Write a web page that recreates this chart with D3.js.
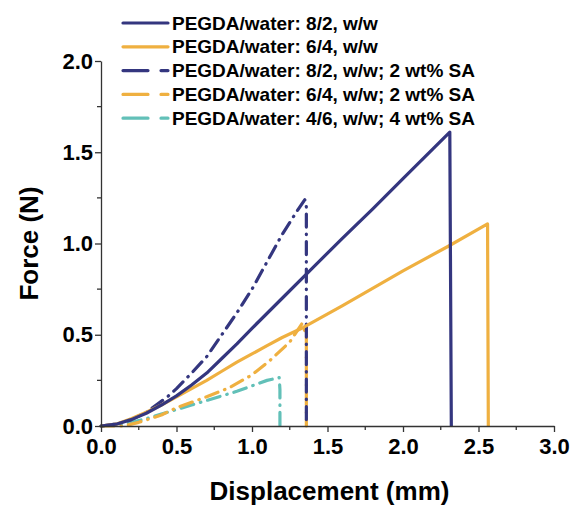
<!DOCTYPE html>
<html>
<head>
<meta charset="utf-8">
<script src="https://cdnjs.cloudflare.com/ajax/libs/d3/7.8.5/d3.min.js"></script>
<style>
  body { margin: 0; background: #fff; }
  text { font-family: "Liberation Sans", Arial, sans-serif; font-weight: bold; fill: #000; }
</style>
</head>
<body>
<div id="chart"></div>
<script>
// set the dimensions and margins of the graph
var margin = {top: 61, right: 21, bottom: 81, left: 101},
    width = 575 - margin.left - margin.right,
    height = 507 - margin.top - margin.bottom;

// series names
var seriesNames = [
    "PEGDA/water: 8/2, w/w",
    "PEGDA/water: 6/4, w/w",
    "PEGDA/water: 8/2, w/w; 2 wt% SA",
    "PEGDA/water: 6/4, w/w; 2 wt% SA",
    "PEGDA/water: 4/6, w/w; 4 wt% SA"
];
var seriesColors = ["#34367f", "#efb040", "#34367f", "#efb040", "#62c0b8"];
var seriesDashed = [false, false, true, true, true];

// displacement (mm) / force (N)
var peg82 = [[0,0],[0.1,0.01],[0.2,0.035],[0.3,0.07],[0.4,0.115],[0.5,0.165],[0.6,0.225],
    [0.7,0.29],[0.8,0.37],[0.9,0.45],[1.0,0.535],[1.2,0.70],[1.4,0.865],[1.6,1.03],
    [1.8,1.19],[2.0,1.355],[2.2,1.52],[2.31,1.61],[2.32,0]];
var peg64 = [[0,0],[0.1,0.01],[0.2,0.04],[0.3,0.075],[0.4,0.115],[0.5,0.16],[0.6,0.205],
    [0.7,0.25],[0.8,0.30],[0.9,0.35],[1.0,0.395],[1.1,0.44],[1.2,0.485],[1.34,0.54],
    [1.6,0.66],[2.0,0.85],[2.3,0.985],[2.56,1.107],[2.565,0]];
var peg82sa = [[0,0],[0.1,0.01],[0.2,0.035],[0.3,0.075],[0.44,0.16],[0.5,0.205],[0.6,0.29],
    [0.7,0.38],[0.8,0.5],[0.9,0.62],[1.0,0.75],[1.1,0.9],[1.2,1.05],[1.3,1.18],
    [1.35,1.24],[1.36,1.2],[1.36,0]];
var peg64sa = [[0,0],[0.15,0.0],[0.25,0.02],[0.4,0.06],[0.5,0.1],[0.6,0.13],[0.7,0.16],
    [0.85,0.21],[1.0,0.28],[1.12,0.36],[1.25,0.46],[1.33,0.56],[1.36,0.5],[1.36,0]];
var peg46sa = [[0,0],[0.1,0.005],[0.2,0.02],[0.3,0.04],[0.4,0.065],[0.5,0.09],[0.6,0.115],
    [0.7,0.14],[0.8,0.165],[0.9,0.19],[1.0,0.22],[1.1,0.25],[1.18,0.265],[1.185,0.2],[1.185,0]];

var allSeries = [peg82, peg64, peg82sa, peg64sa, peg46sa];

var xTicks = [0, 0.5, 1.0, 1.5, 2.0, 2.5, 3.0],
    yTicks = [0, 0.5, 1.0, 1.5, 2.0],
    xMinor = [0.25, 0.75, 1.25, 1.75, 2.25, 2.75],
    yMinor = [0.25, 0.75, 1.25, 1.75];

// set the ranges
var x = d3.scaleLinear().domain([0, 3]).range([0, width]);
var y = d3.scaleLinear().domain([0, 2]).range([height, 0]);

var svg = d3.select("#chart")
    .append("svg")
    .attr("width", 575)
    .attr("height", 507);

var g = svg.append("g")
    .attr("transform", "translate(" + margin.left + "," + margin.top + ")");

// define the line
var valueline = d3.line()
    .x(function(d) { return x(d[0]); })
    .y(function(d) { return y(d[1]); });

// draw series (solid ones last so they sit on top like the picture)
var order = [4, 3, 2, 1, 0];
order.forEach(function(i) {
    g.append("path")
        .datum(allSeries[i])
        .attr("fill", "none")
        .attr("stroke", seriesColors[i])
        .attr("stroke-width", 3.2)
        .attr("stroke-linejoin", "round")
        .attr("stroke-linecap", seriesDashed[i] ? "round" : "butt")
        .attr("stroke-dasharray", seriesDashed[i] ? "13,7,0.5,7" : null)
        .attr("d", valueline);
});

// Add the X Axis
var xAxis = g.append("g")
    .attr("transform", "translate(0," + height + ")")
    .call(d3.axisBottom(x).tickValues(xTicks).tickSize(6).tickSizeOuter(0)
        .tickFormat(d3.format(".1f")));
xAxis.selectAll(".minor").data(xMinor).enter().append("line")
    .attr("class", "minor")
    .attr("x1", function(d) { return x(d); })
    .attr("x2", function(d) { return x(d); })
    .attr("y1", 0).attr("y2", 4);
xAxis.selectAll(".tick text")
    .attr("dy", "0.87em")
    .style("font-size", "22px");

// Add the Y Axis
var yAxis = g.append("g")
    .call(d3.axisLeft(y).tickValues(yTicks).tickSize(6).tickSizeOuter(0)
        .tickFormat(d3.format(".1f")));
yAxis.selectAll(".minor").data(yMinor).enter().append("line")
    .attr("class", "minor")
    .attr("y1", function(d) { return y(d); })
    .attr("y2", function(d) { return y(d); })
    .attr("x1", 0).attr("x2", -4);
yAxis.selectAll(".tick text")
    .attr("x", -8)
    .style("font-size", "22px");

svg.selectAll(".domain, .tick line, .minor").attr("stroke", "#333").attr("stroke-width", 1.3);

// axis titles
svg.append("text")
    .attr("x", margin.left + width / 2 + 2)
    .attr("y", 500)
    .attr("text-anchor", "middle")
    .style("font-size", "26px")
    .text("Displacement (mm)");

svg.append("text")
    .attr("transform", "translate(38," + (margin.top + height / 2) + ") rotate(-90)")
    .attr("text-anchor", "middle")
    .style("font-size", "26px")
    .text("Force (N)");

// legend
var legend = svg.append("g")
    .attr("transform", "translate(123,23)");

seriesNames.forEach(function(name, i) {
    var row = legend.append("g")
        .attr("transform", "translate(0," + (i * 23.8) + ")");
    row.append("line")
        .attr("x1", 0).attr("x2", 45)
        .attr("y1", 0).attr("y2", 0)
        .attr("stroke", seriesColors[i])
        .attr("stroke-width", 3.2)
        .attr("stroke-linecap", "round")
        .attr("stroke-dasharray", seriesDashed[i] ? "25,13,1,0" : null);
    row.append("text")
        .attr("x", 49)
        .attr("y", 0)
        .attr("dy", "0.35em")
        .style("font-size", "19px")
        .text(name);
});
</script>
</body>
</html>
